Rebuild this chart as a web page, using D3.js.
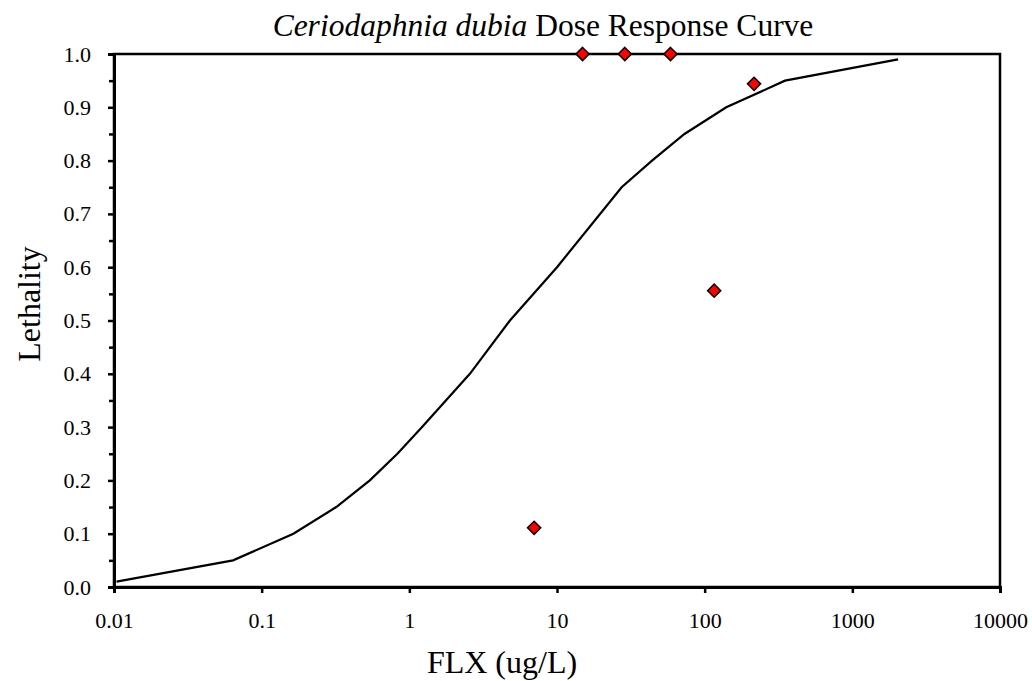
<!DOCTYPE html>
<html>
<head>
<meta charset="UTF-8">
<title>Ceriodaphnia dubia Dose Response Curve</title>
<script src="https://d3js.org/d3.v7.min.js"></script>
<style>
  body { margin: 0; background: #fff; }
  text { font-family: "Liberation Serif", "Times New Roman", serif; fill: #000; }
</style>
</head>
<body>
<div id="chart"></div>
<script>
// fitted curve
const curveX = [0.0104, 0.064, 0.164, 0.32, 0.54, 0.83, 1.22, 2.57, 4.8, 10, 27.4, 44, 73, 140, 350, 2040];
const curveY = [0.01, 0.05, 0.1, 0.15, 0.2, 0.25, 0.3, 0.4, 0.5, 0.6, 0.75, 0.8, 0.85, 0.9, 0.95, 0.99];

// observed lethality
const obsX = [7, 14.9, 28.8, 58.7, 116, 216];
const obsY = [0.111, 1.0, 1.0, 1.0, 0.556, 0.944];

const xTicks = [0.01, 0.1, 1, 10, 100, 1000, 10000];
const yTicks = [0, 0.1, 0.2, 0.3, 0.4, 0.5, 0.6, 0.7, 0.8, 0.9, 1.0];
const yMinor = d3.range(0.05, 1, 0.1);

const width = 1032, height = 681;
const margin = { top: 54, right: 32, bottom: 94, left: 114 };

const svg = d3.select('#chart').append('svg')
  .attr('width', width)
  .attr('height', height);

const x = d3.scaleLog().domain([0.01, 10000]).range([margin.left, width - margin.right]);
const y = d3.scaleLinear().domain([0, 1]).range([height - margin.bottom, margin.top]);

// box top and right
svg.append('rect')
  .attr('x', x(0.01)).attr('y', y(1))
  .attr('width', x(10000) - x(0.01)).attr('height', y(0) - y(1))
  .attr('fill', 'none').attr('stroke', '#000').attr('stroke-width', 2.5);

// x axis
const xAxis = svg.append('g')
  .attr('transform', `translate(0,${y(0)})`)
  .call(d3.axisBottom(x).tickValues(xTicks).tickFormat(d => String(d)).tickSize(6).tickPadding(19));
xAxis.select('.domain').attr('stroke-width', 3);
xAxis.selectAll('.tick line').attr('stroke-width', 2.5);
xAxis.selectAll('text').style('font-size', '22px').attr('font-family', null);

// y axis minor ticks
svg.append('g')
  .attr('transform', `translate(${x(0.01)},0)`)
  .call(d3.axisLeft(y).tickValues(yMinor).tickSize(5).tickFormat(''))
  .call(g => g.select('.domain').remove())
  .selectAll('.tick line').attr('stroke-width', 2.5);

// y axis
const yAxis = svg.append('g')
  .attr('transform', `translate(${x(0.01)},0)`)
  .call(d3.axisLeft(y).tickValues(yTicks).tickFormat(d3.format('.1f')).tickSize(6).tickPadding(17));
yAxis.select('.domain').attr('stroke-width', 3);
yAxis.selectAll('.tick line').attr('stroke-width', 2.5);
yAxis.selectAll('text').style('font-size', '22px').attr('font-family', null);

// curve
const line = d3.line().x(d => x(d[0])).y(d => y(d[1]));
svg.append('path')
  .datum(d3.zip(curveX, curveY))
  .attr('d', line)
  .attr('fill', 'none')
  .attr('stroke', '#000')
  .attr('stroke-width', 2.2);

// observed points
svg.append('g').selectAll('path')
  .data(d3.zip(obsX, obsY))
  .join('path')
  .attr('d', d3.symbol(d3.symbolDiamond2, 110))
  .attr('transform', d => `translate(${x(d[0])},${y(d[1])})`)
  .attr('fill', '#ff0000')
  .attr('stroke', '#000')
  .attr('stroke-width', 1.5);

// title
const title = svg.append('text')
  .attr('x', 543).attr('y', 36)
  .attr('text-anchor', 'middle')
  .style('font-size', '31.5px');
title.append('tspan').style('font-style', 'italic').text('Ceriodaphnia dubia');
title.append('tspan').text(' Dose Response Curve');

// axis titles
svg.append('text')
  .attr('x', 502).attr('y', 673)
  .attr('text-anchor', 'middle')
  .style('font-size', '32px')
  .text('FLX (ug/L)');

svg.append('text')
  .attr('transform', 'translate(40,304) rotate(-90)')
  .attr('text-anchor', 'middle')
  .style('font-size', '32px')
  .text('Lethality');
</script>
</body>
</html>
